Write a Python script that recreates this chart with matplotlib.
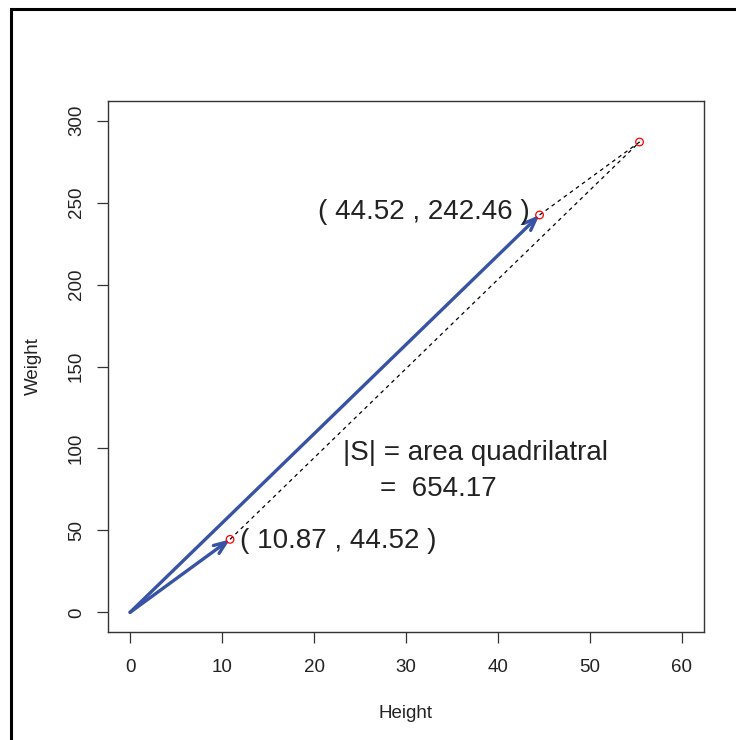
import numpy as np
import matplotlib.pyplot as plt
from matplotlib.patches import Rectangle

plt.rcParams['font.family'] = ['Liberation Sans', 'DejaVu Sans']

# the two vectors (Height, Weight)
vec_x = [10.87, 44.52]
vec_y = [44.52, 242.46]
vec_labels = ["( 10.87 , 44.52 )", "( 44.52 , 242.46 )"]
area_label = "|S| = area quadrilatral"
area_value = "=  654.17"

x_ticks = [0, 10, 20, 30, 40, 50, 60]
y_ticks = [0, 50, 100, 150, 200, 250, 300]

sum_x = vec_x[0] + vec_x[1]
sum_y = vec_y[0] + vec_y[1]

blue = '#3953a4'
txt = '#222222'

fig = plt.figure(figsize=(7.36, 7.40), dpi=100)
# outer frame (cut off on the right and bottom)
fig.patches.append(Rectangle((11 / 736, -0.05), 1.2, (740 - 9) / 740 + 0.05,
                             transform=fig.transFigure, fill=False,
                             edgecolor='black', linewidth=2.2))

ax = fig.add_axes([108 / 736, (740 - 632) / 740, (704 - 108) / 736, (632 - 101) / 740])

# vectors from the origin
for vx, vy in zip(vec_x, vec_y):
    ax.annotate('', xy=(vx, vy), xytext=(0, 0),
                arrowprops=dict(arrowstyle='->,head_length=0.9,head_width=0.35',
                                color=blue, lw=2.4, shrinkA=0, shrinkB=0))

# dashed sides of the parallelogram
for vx, vy in zip(vec_x, vec_y):
    ax.plot([vx, sum_x], [vy, sum_y], linestyle=(0, (3, 3)), color='black', lw=0.9)

# points
ax.scatter(vec_x + [sum_x], vec_y + [sum_y], s=30, facecolors='none',
           edgecolors='red', linewidths=0.9, zorder=5)

ax.text(12.0, 43.8, vec_labels[0], ha='left', va='center', fontsize=20, color=txt)
ax.text(43.5, 244, vec_labels[1], ha='right', va='center', fontsize=20, color=txt)
ax.text(37.6, 97.4, area_label, ha='center', va='center', fontsize=20, color=txt)
ax.text(33.5, 75.5, area_value, ha='center', va='center', fontsize=20, color=txt)

ax.set_xlim(-2.4, 62.4)
ax.set_ylim(-12, 312)
ax.set_xticks(x_ticks)
ax.set_yticks(y_ticks)
ax.set_yticklabels([str(t) for t in y_ticks], rotation=90, va='center')
ax.tick_params(length=8, width=0.9, colors='#333333', labelsize=13.5, pad=8.5)
ax.tick_params(axis='x', pad=11.5)
ax.tick_params(labelcolor=txt)
for s in ax.spines.values():
    s.set_color('#333333')
    s.set_linewidth(1.0)

ax.set_xlabel('Height', fontsize=13.5, color=txt, labelpad=21)
ax.set_ylabel('Weight', fontsize=13.5, color=txt, labelpad=19)

fig.savefig('out.png', dpi=100)
